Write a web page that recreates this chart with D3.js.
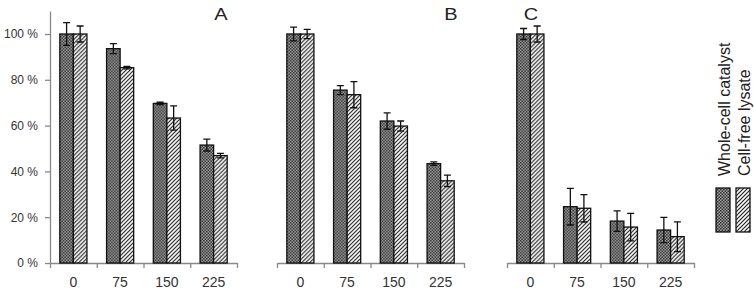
<!DOCTYPE html>
<html>
<head>
<meta charset="utf-8">
<script src="https://cdn.jsdelivr.net/npm/d3@7"></script>
<style>
  body { margin: 0; background: #fff; }
  svg { font-family: "Liberation Sans", Arial, sans-serif; }
  .axis path, .axis line { stroke: #898989; stroke-width: 1.3; }
  .axis text { fill: #333; }
</style>
</head>
<body>
<div id="chart"></div>
<script>
// ---------------------------------------
// data
const doses = ["0", "75", "150", "225"];
const seriesNames = ["Whole-cell catalyst", "Cell-free lysate"];
const panelLabels = ["A", "B", "C"];
const yTicks = [0, 20, 40, 60, 80, 100];

// mean values (%) per panel, [whole-cell, cell-free] per dose
const wholeCellA = [100, 93.6, 69.7, 51.5];
const cellFreeA  = [100, 85.3, 63.3, 46.9];
const wholeCellB = [100, 75.5, 62.0, 43.4];
const cellFreeB  = [100, 73.5, 59.8, 35.9];
const wholeCellC = [100, 24.6, 18.3, 14.4];
const cellFreeC  = [100, 23.9, 15.7, 11.5];

// error bar half-widths (%)
const wholeCellErrA = [5.0, 2.2, 0.5, 2.6];
const cellFreeErrA  = [3.5, 0.5, 5.3, 1.0];
const wholeCellErrB = [3.0, 2.0, 3.6, 0.8];
const cellFreeErrB  = [2.0, 5.7, 2.2, 2.5];
const wholeCellErrC = [2.4, 8.0, 4.5, 5.5];
const cellFreeErrC  = [3.5, 6.0, 6.0, 6.5];

const panels = [
  {label: "A", x0: 50, values: [wholeCellA, cellFreeA], errs: [wholeCellErrA, cellFreeErrA], yAxis: true},
  {label: "B", x0: 277, values: [wholeCellB, cellFreeB], errs: [wholeCellErrB, cellFreeErrB], yAxis: false},
  {label: "C", x0: 507, values: [wholeCellC, cellFreeC], errs: [wholeCellErrC, cellFreeErrC], yAxis: false}
];
const labelX = [221, 451, 531];

// ---------------------------------------
// svg params
const W = 754, H = 289;
const panelWidth = 187;

const svg = d3.select("#chart")
    .append("svg")
    .attr("width", W)
    .attr("height", H);

// fill patterns
const defs = svg.append("defs");
const checker = defs.append("pattern")
    .attr("id", "checker")
    .attr("patternUnits", "userSpaceOnUse")
    .attr("width", 3).attr("height", 3);
checker.append("rect").attr("width", 3).attr("height", 3).attr("fill", "#a0a0a0");
checker.append("rect").attr("width", 1.5).attr("height", 1.5).attr("fill", "#333");
checker.append("rect").attr("x", 1.5).attr("y", 1.5).attr("width", 1.5).attr("height", 1.5).attr("fill", "#333");

const hatch = defs.append("pattern")
    .attr("id", "hatch")
    .attr("patternUnits", "userSpaceOnUse")
    .attr("width", 4).attr("height", 4);
hatch.append("rect").attr("width", 4).attr("height", 4).attr("fill", "#fff");
hatch.append("path")
    .attr("d", "M-1,1 l2,-2 M0,4 l4,-4 M3,5 l2,-2")
    .attr("stroke", "#222").attr("stroke-width", 1.2);

const fills = ["url(#checker)", "url(#hatch)"];

// scales
const y = d3.scaleLinear()
    .domain([0, 110])
    .range([263, 11.1]);

const x = d3.scaleBand()
    .domain(doses)
    .range([0, panelWidth])
    .paddingInner(0.42)
    .paddingOuter(0.21);

const xSub = d3.scaleBand()
    .domain([0, 1])
    .range([0, x.bandwidth()]);

// ---------------------------------------
// draw panels
panels.forEach(function(p, pi) {
  const g = svg.append("g").attr("transform", "translate(" + p.x0 + ",0)");

  // x axis with boundary ticks
  const xb = d3.scaleLinear().domain([0, doses.length]).range([0, panelWidth]);
  const xAxis = g.append("g")
      .attr("class", "axis")
      .attr("transform", "translate(0," + y(0) + ")")
      .call(d3.axisBottom(xb).ticks(4).tickSizeInner(5).tickSizeOuter(0).tickFormat(""));
  xAxis.selectAll("text").remove();

  g.selectAll(".xlab")
      .data(doses)
      .enter()
      .append("text")
      .attr("class", "xlab")
      .attr("x", (d) => x(d) + x.bandwidth() / 2)
      .attr("y", 287)
      .attr("text-anchor", "middle")
      .attr("font-size", 14)
      .attr("fill", "#333")
      .text((d) => d);

  if (p.yAxis) {
    const yAxis = g.append("g")
        .attr("class", "axis")
        .call(d3.axisLeft(y).tickValues(yTicks).tickSizeInner(5).tickSizeOuter(0)
            .tickFormat((d) => d + " %"));
    yAxis.selectAll("text").attr("font-size", 12).attr("x", -12);
  }

  // bars
  const rows = [];
  doses.forEach(function(d, i) {
    p.values.forEach(function(vals, s) {
      rows.push({dose: d, s: s, value: vals[i], err: p.errs[s][i]});
    });
  });

  const bar = g.selectAll(".bar")
      .data(rows)
      .enter()
      .append("g")
      .attr("class", "bar")
      .attr("transform", (d) => "translate(" + (x(d.dose) + xSub(d.s)) + ",0)");

  bar.append("rect")
      .attr("y", (d) => y(d.value))
      .attr("width", xSub.bandwidth())
      .attr("height", (d) => y(0) - y(d.value))
      .attr("fill", (d) => fills[d.s])
      .attr("stroke", "#111")
      .attr("stroke-width", 1.3);

  // error bars
  const cx = xSub.bandwidth() / 2;
  const cap = 3.5;
  bar.append("path")
      .attr("d", function(d) {
        const t = y(d.value + d.err), b = y(d.value - d.err);
        return "M" + cx + "," + t + "V" + b +
          "M" + (cx - cap) + "," + t + "H" + (cx + cap) +
          "M" + (cx - cap) + "," + b + "H" + (cx + cap);
      })
      .attr("stroke", "#111")
      .attr("stroke-width", 1.3)
      .attr("fill", "none");

  // panel letter
  svg.append("text")
      .attr("transform", "translate(" + labelX[pi] + ",19.5) scale(1.25,1)")
      .attr("text-anchor", "middle")
      .attr("font-size", 16)
      .attr("font-weight", "normal")
      .attr("fill", "#222")
      .text(panelLabels[pi]);
});

// ---------------------------------------
// legend
const legend = svg.append("g").attr("class", "legend");
const legX = [716, 736];
seriesNames.forEach(function(name, i) {
  legend.append("rect")
      .attr("x", legX[i])
      .attr("y", 188)
      .attr("width", 14)
      .attr("height", 44)
      .attr("fill", fills[i])
      .attr("stroke", "#111")
      .attr("stroke-width", 1.3);
  legend.append("text")
      .attr("transform", "translate(" + (legX[i] + 13.5) + ",176) rotate(-90)")
      .attr("font-size", 16)
      .attr("fill", "#222")
      .text(name);
});
</script>
</body>
</html>
